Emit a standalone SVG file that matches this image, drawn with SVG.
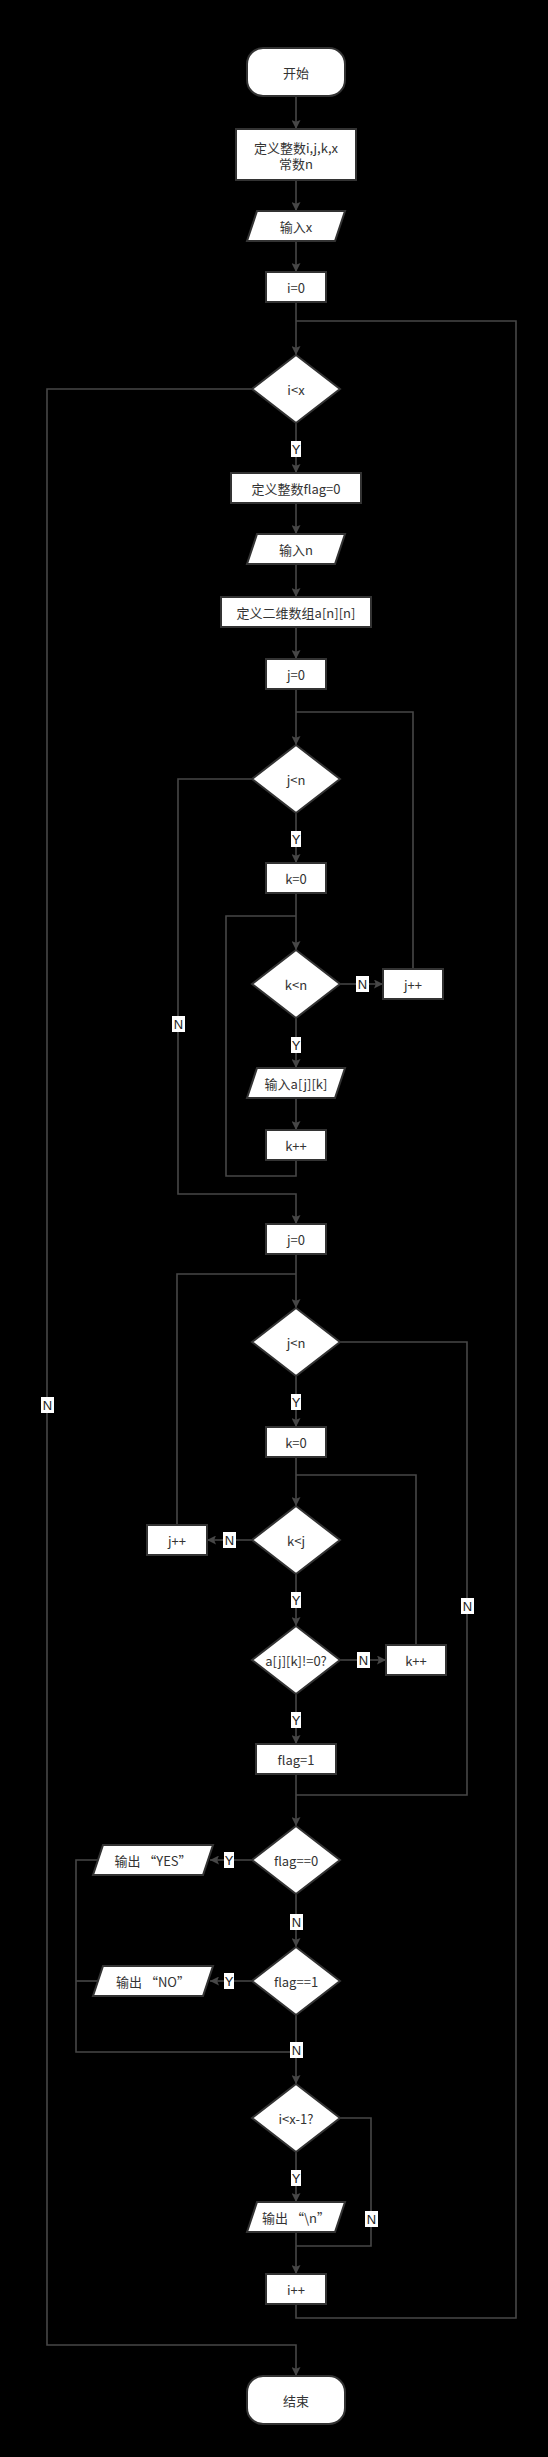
<svg xmlns="http://www.w3.org/2000/svg" width="548" height="2457" viewBox="0 0 548 2457">
<style>
.bg{fill:#000}
.n{fill:#fff;stroke:#333;stroke-width:2}
.t{font-family:"Noto Sans CJK SC","Liberation Sans",sans-serif;font-size:13px;fill:#333;text-anchor:middle;dominant-baseline:central}
.c{fill:none;stroke:#474747;stroke-width:1.6}
.lb{fill:#fff}
.lt{font-family:"Liberation Sans","Noto Sans CJK SC",sans-serif;font-size:13px;fill:#222;text-anchor:middle;dominant-baseline:central}
</style>
<defs>
<marker id="ah" viewBox="0 0 10 10" refX="10" refY="5" markerWidth="10" markerHeight="9" markerUnits="userSpaceOnUse" orient="auto">
<path d="M0,0 L10,5 L0,10 L2,5 z" fill="#474747"/>
</marker>
</defs>
<rect class="bg" x="0" y="0" width="548" height="2457"/>
<g id="connectors">
<path class="c" d="M296,96 V129" marker-end="url(#ah)"/>
<path class="c" d="M296,180 V211" marker-end="url(#ah)"/>
<path class="c" d="M296,241 V272" marker-end="url(#ah)"/>
<path class="c" d="M296,302 V355" marker-end="url(#ah)"/>
<path class="c" d="M296,2304 V2318 H516 V321 H296"/>
<path class="c" d="M252,389 H47 V2345 H296 V2376" marker-end="url(#ah)"/>
<path class="c" d="M296,423 V473" marker-end="url(#ah)"/>
<path class="c" d="M296,503 V534" marker-end="url(#ah)"/>
<path class="c" d="M296,564 V597" marker-end="url(#ah)"/>
<path class="c" d="M296,627 V659" marker-end="url(#ah)"/>
<path class="c" d="M296,689 V745" marker-end="url(#ah)"/>
<path class="c" d="M413,969 V712 H296"/>
<path class="c" d="M296,813 V863" marker-end="url(#ah)"/>
<path class="c" d="M252,779 H178 V1194 H296 V1224" marker-end="url(#ah)"/>
<path class="c" d="M296,893 V950" marker-end="url(#ah)"/>
<path class="c" d="M296,1160 V1176 H226 V916 H296"/>
<path class="c" d="M340,984 H383" marker-end="url(#ah)"/>
<path class="c" d="M296,1018 V1068" marker-end="url(#ah)"/>
<path class="c" d="M296,1098 V1130" marker-end="url(#ah)"/>
<path class="c" d="M296,1254 V1308" marker-end="url(#ah)"/>
<path class="c" d="M177,1525 V1274 H296"/>
<path class="c" d="M296,1376 V1427" marker-end="url(#ah)"/>
<path class="c" d="M340,1342 H467 V1795 H296"/>
<path class="c" d="M296,1457 V1506" marker-end="url(#ah)"/>
<path class="c" d="M416,1645 V1475 H296"/>
<path class="c" d="M252,1540 H207" marker-end="url(#ah)"/>
<path class="c" d="M296,1574 V1626" marker-end="url(#ah)"/>
<path class="c" d="M340,1660 H386" marker-end="url(#ah)"/>
<path class="c" d="M296,1694 V1744" marker-end="url(#ah)"/>
<path class="c" d="M296,1774 V1826" marker-end="url(#ah)"/>
<path class="c" d="M252,1860 H210" marker-end="url(#ah)"/>
<path class="c" d="M98,1860 H76 V2052 H296"/>
<path class="c" d="M296,1894 V1947" marker-end="url(#ah)"/>
<path class="c" d="M252,1981 H210" marker-end="url(#ah)"/>
<path class="c" d="M98,1981 H76"/>
<path class="c" d="M296,2015 V2084" marker-end="url(#ah)"/>
<path class="c" d="M296,2152 V2202" marker-end="url(#ah)"/>
<path class="c" d="M340,2118 H371 V2246 H296"/>
<path class="c" d="M296,2232 V2274" marker-end="url(#ah)"/>
<g id="labels">
<rect class="lb" x="41" y="1397" width="13" height="16"/><text class="lt" x="47.5" y="1405">N</text>
<rect class="lb" x="291" y="441" width="10" height="16"/><text class="lt" x="296" y="449">Y</text>
<rect class="lb" x="291" y="831" width="10" height="16"/><text class="lt" x="296" y="839">Y</text>
<rect class="lb" x="172" y="1016" width="13" height="16"/><text class="lt" x="178.5" y="1024">N</text>
<rect class="lb" x="356" y="976" width="13" height="16"/><text class="lt" x="362.5" y="984">N</text>
<rect class="lb" x="291" y="1037" width="10" height="16"/><text class="lt" x="296" y="1045">Y</text>
<rect class="lb" x="291" y="1394" width="10" height="16"/><text class="lt" x="296" y="1402">Y</text>
<rect class="lb" x="461" y="1598" width="13" height="16"/><text class="lt" x="467.5" y="1606">N</text>
<rect class="lb" x="223" y="1532" width="13" height="16"/><text class="lt" x="229.5" y="1540">N</text>
<rect class="lb" x="291" y="1592" width="10" height="16"/><text class="lt" x="296" y="1600">Y</text>
<rect class="lb" x="357" y="1652" width="13" height="16"/><text class="lt" x="363.5" y="1660">N</text>
<rect class="lb" x="291" y="1712" width="10" height="16"/><text class="lt" x="296" y="1720">Y</text>
<rect class="lb" x="224" y="1852" width="10" height="16"/><text class="lt" x="229" y="1860">Y</text>
<rect class="lb" x="290" y="1914" width="13" height="16"/><text class="lt" x="296.5" y="1922">N</text>
<rect class="lb" x="224" y="1973" width="10" height="16"/><text class="lt" x="229" y="1981">Y</text>
<rect class="lb" x="290" y="2042" width="13" height="16"/><text class="lt" x="296.5" y="2050">N</text>
<rect class="lb" x="291" y="2170" width="10" height="16"/><text class="lt" x="296" y="2178">Y</text>
<rect class="lb" x="365" y="2211" width="13" height="16"/><text class="lt" x="371.5" y="2219">N</text>
</g>
</g>
<g id="start"><rect class="n" x="247" y="48" width="98" height="48" rx="16"/><text class="t" x="296" y="72">开始</text></g>
<g id="def1"><rect class="n" x="236" y="129" width="120" height="51"/><text class="t" x="296" y="147">定义整数i,j,k,x</text><text class="t" x="296" y="163">常数n</text></g>
<g id="input_x"><polygon class="n" points="257,211 345,211 335,241 247,241"/><text class="t" x="296" y="226">输入x</text></g>
<g id="i0"><rect class="n" x="266" y="272" width="60" height="30"/><text class="t" x="296" y="287">i=0</text></g>
<g id="cond_ix"><polygon class="n" points="296,355 340,389 296,423 252,389"/><text class="t" x="296" y="389">i&lt;x</text></g>
<g id="flag0"><rect class="n" x="231" y="473" width="130" height="30"/><text class="t" x="296" y="488">定义整数flag=0</text></g>
<g id="input_n"><polygon class="n" points="257,534 345,534 335,564 247,564"/><text class="t" x="296" y="549">输入n</text></g>
<g id="arr"><rect class="n" x="221" y="597" width="150" height="30"/><text class="t" x="296" y="612">定义二维数组a[n][n]</text></g>
<g id="j0a"><rect class="n" x="266" y="659" width="60" height="30"/><text class="t" x="296" y="674">j=0</text></g>
<g id="cond_jn1"><polygon class="n" points="296,745 340,779 296,813 252,779"/><text class="t" x="296" y="779">j&lt;n</text></g>
<g id="k0a"><rect class="n" x="266" y="863" width="60" height="30"/><text class="t" x="296" y="878">k=0</text></g>
<g id="cond_kn"><polygon class="n" points="296,950 340,984 296,1018 252,984"/><text class="t" x="296" y="984">k&lt;n</text></g>
<g id="jpp1"><rect class="n" x="383" y="969" width="60" height="30"/><text class="t" x="413" y="984">j++</text></g>
<g id="input_a"><polygon class="n" points="257,1068 345,1068 335,1098 247,1098"/><text class="t" x="296" y="1083">输入a[j][k]</text></g>
<g id="kpp1"><rect class="n" x="266" y="1130" width="60" height="30"/><text class="t" x="296" y="1145">k++</text></g>
<g id="j0b"><rect class="n" x="266" y="1224" width="60" height="30"/><text class="t" x="296" y="1239">j=0</text></g>
<g id="cond_jn2"><polygon class="n" points="296,1308 340,1342 296,1376 252,1342"/><text class="t" x="296" y="1342">j&lt;n</text></g>
<g id="k0b"><rect class="n" x="266" y="1427" width="60" height="30"/><text class="t" x="296" y="1442">k=0</text></g>
<g id="cond_kj"><polygon class="n" points="296,1506 340,1540 296,1574 252,1540"/><text class="t" x="296" y="1540">k&lt;j</text></g>
<g id="jpp2"><rect class="n" x="147" y="1525" width="60" height="30"/><text class="t" x="177" y="1540">j++</text></g>
<g id="cond_a"><polygon class="n" points="296,1626 340,1660 296,1694 252,1660"/><text class="t" x="296" y="1660">a[j][k]!=0?</text></g>
<g id="kpp2"><rect class="n" x="386" y="1645" width="60" height="30"/><text class="t" x="416" y="1660">k++</text></g>
<g id="flag1"><rect class="n" x="256" y="1744" width="80" height="30"/><text class="t" x="296" y="1759">flag=1</text></g>
<g id="cond_f0"><polygon class="n" points="296,1826 340,1860 296,1894 252,1860"/><text class="t" x="296" y="1860">flag==0</text></g>
<g id="out_yes"><polygon class="n" points="103,1845 213,1845 203,1875 93,1875"/><text class="t" x="153" y="1860">输出 “YES”</text></g>
<g id="cond_f1"><polygon class="n" points="296,1947 340,1981 296,2015 252,1981"/><text class="t" x="296" y="1981">flag==1</text></g>
<g id="out_no"><polygon class="n" points="103,1966 213,1966 203,1996 93,1996"/><text class="t" x="153" y="1981">输出 “NO”</text></g>
<g id="cond_ix1"><polygon class="n" points="296,2084 340,2118 296,2152 252,2118"/><text class="t" x="296" y="2118">i&lt;x-1?</text></g>
<g id="out_n"><polygon class="n" points="257,2202 345,2202 335,2232 247,2232"/><text class="t" x="296" y="2217">输出 “\n”</text></g>
<g id="ipp"><rect class="n" x="266" y="2274" width="60" height="30"/><text class="t" x="296" y="2289">i++</text></g>
<g id="end"><rect class="n" x="247" y="2376" width="98" height="48" rx="16"/><text class="t" x="296" y="2400">结束</text></g>
</svg>
